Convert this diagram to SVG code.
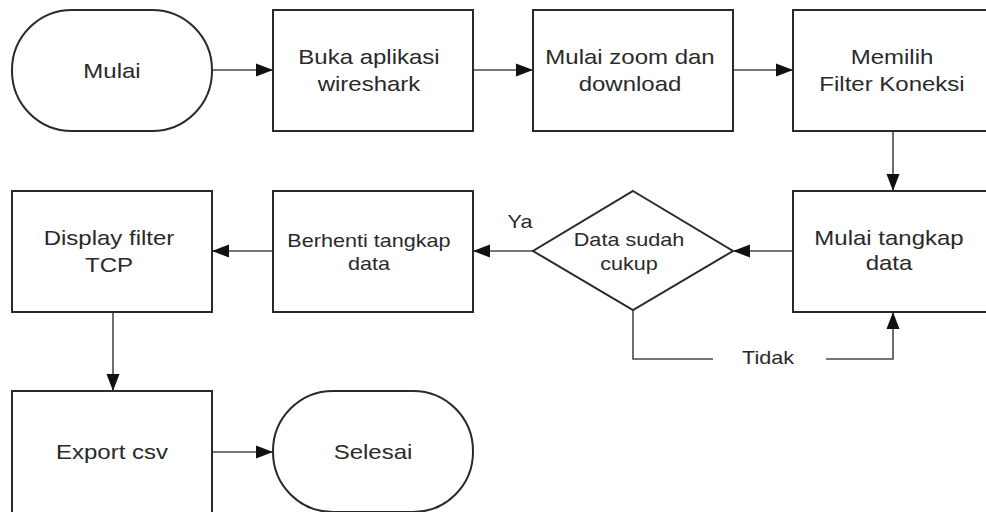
<svg xmlns="http://www.w3.org/2000/svg" width="986" height="512" viewBox="0 0 986 512">
<style>
.s{fill:#fff;stroke:#2a2a2a;stroke-width:2}
.t{font-family:"Liberation Sans",Arial,sans-serif;font-size:20px;fill:#2a2a2a;text-anchor:middle}
.m{font-size:18px}
.c{fill:none;stroke:#4a4a4a;stroke-width:1.6}
</style>
<defs>
<marker id="a" markerWidth="17" markerHeight="14" refX="16" refY="7" orient="auto" markerUnits="userSpaceOnUse" viewBox="0 0 17 14">
<path d="M0,0.5 L17,7 L0,13.5 Z" fill="#111"/>
</marker>
</defs>
<rect width="986" height="512" fill="#fff"/>
<g id="connectors">
<path class="c" d="M212,70 H272" marker-end="url(#a)"/>
<path class="c" d="M473,70 H532" marker-end="url(#a)"/>
<path class="c" d="M734,70 H792" marker-end="url(#a)"/>
<path class="c" d="M893,131 V190" marker-end="url(#a)"/>
<path class="c" d="M793,251 H734" marker-end="url(#a)"/>
<path class="c" d="M533,251 H474" marker-end="url(#a)"/>
<path class="c" d="M273,251 H213" marker-end="url(#a)"/>
<path class="c" d="M113,312 V390" marker-end="url(#a)"/>
<path class="c" d="M212,452 H272" marker-end="url(#a)"/>
<path class="c" d="M633,310 V359 H713"/>
<path class="c" d="M826,359 H893 V313" marker-end="url(#a)"/>
<text class="t m" transform="translate(520 228) scale(1.2 1)">Ya</text>
<text class="t m" transform="translate(768 364) scale(1.2 1)">Tidak</text>
</g>
<g id="mulai"><rect class="s" x="12" y="10" width="200" height="121" rx="60" ry="60"/><text class="t" transform="translate(112 78) scale(1.2 1)">Mulai</text></g>
<g id="buka"><rect class="s" x="273" y="10" width="200" height="121"/><text class="t" transform="translate(369 64) scale(1.2 1)">Buka aplikasi</text><text class="t" transform="translate(369 91) scale(1.2 1)">wireshark</text></g>
<g id="zoom"><rect class="s" x="533" y="10" width="200" height="121"/><text class="t" transform="translate(630 64) scale(1.2 1)">Mulai zoom dan</text><text class="t" transform="translate(630 91) scale(1.2 1)">download</text></g>
<g id="memilih"><rect class="s" x="793" y="10" width="200" height="121"/><text class="t" transform="translate(892 64) scale(1.2 1)">Memilih</text><text class="t" transform="translate(892 91) scale(1.2 1)">Filter Koneksi</text></g>
<g id="tangkap"><rect class="s" x="793" y="191" width="200" height="121"/><text class="t" transform="translate(889 245) scale(1.2 1)">Mulai tangkap</text><text class="t" transform="translate(889 270) scale(1.2 1)">data</text></g>
<g id="decision"><polygon class="s" points="633,191 733,251 633,310 533,251"/><text class="t m" transform="translate(629 246) scale(1.2 1)">Data sudah</text><text class="t m" transform="translate(629 270) scale(1.2 1)">cukup</text></g>
<g id="berhenti"><rect class="s" x="273" y="191" width="200" height="121"/><text class="t m" transform="translate(369 247) scale(1.2 1)">Berhenti tangkap</text><text class="t m" transform="translate(369 270) scale(1.2 1)">data</text></g>
<g id="display"><rect class="s" x="12" y="191" width="200" height="121"/><text class="t" transform="translate(109 245) scale(1.2 1)">Display filter</text><text class="t" transform="translate(109 272) scale(1.2 1)">TCP</text></g>
<g id="export"><rect class="s" x="12" y="391" width="200" height="125"/><text class="t" transform="translate(112 459) scale(1.2 1)">Export csv</text></g>
<g id="selesai"><rect class="s" x="273" y="391" width="200" height="121" rx="60" ry="60"/><text class="t" transform="translate(373 459) scale(1.2 1)">Selesai</text></g>
</svg>
